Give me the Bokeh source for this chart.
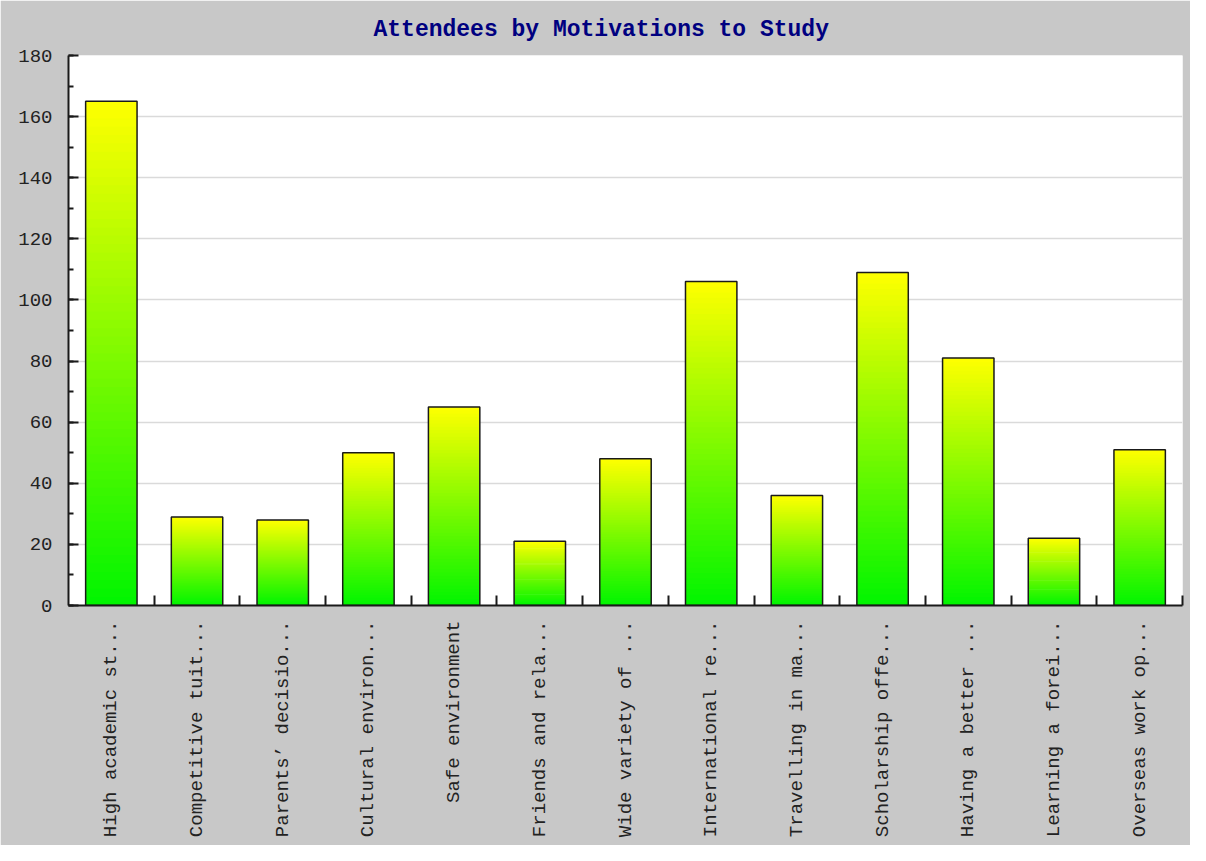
import math
from bokeh.plotting import figure
from bokeh.models import Range1d, FixedTicker, ColumnDataSource
from bokeh.embed import file_html
from bokeh.resources import INLINE

# ---- data ----
categories = [
    "High academic st...",
    "Competitive tuit...",
    "Parents\u2019 decisio...",
    "Cultural environ...",
    "Safe environment",
    "Friends and rela...",
    "Wide variety of ...",
    "International re...",
    "Travelling in ma...",
    "Scholarship offe...",
    "Having a better ...",
    "Learning a forei...",
    "Overseas work op...",
]
attendees = [165, 29, 28, 50, 65, 21, 48, 106, 36, 109, 81, 22, 51]
y_ticks = [0, 20, 40, 60, 80, 100, 120, 140, 160, 180]
title_text = "Attendees by Motivations to Study"

# ---- style ----
BG = "#C8C8C8"
AXIS = "#1a1a1a"
TOP_RGB = (255, 255, 0)
BOT_RGB = (0, 245, 0)
N_SLICES = 60
BAR_PAD = 0.2

n = len(categories)
p = figure(
    width=1190, height=845,
    x_range=Range1d(0, n), y_range=Range1d(0, 180),
    output_backend="svg", toolbar_location=None,
    min_border_left=68, min_border_right=8,
    min_border_top=55, min_border_bottom=240,
    title=title_text,
)
p.background_fill_color = "white"
p.border_fill_color = BG
p.outline_line_color = None

p.title.align = "left"
p.title.offset = 305
p.title.text_font = "Liberation Mono"
p.title.text_font_style = "bold"
p.title.text_font_size = "23px"
p.title.text_color = "#000080"
p.title.standoff = 25

# gradient bars built as stacked, slightly overlapping slices
left, right, bottom, top, colors = [], [], [], [], []
for i, v in enumerate(attendees):
    h = v / N_SLICES
    for k in range(N_SLICES):
        t = (k + 0.5) / N_SLICES
        r = round(BOT_RGB[0] + (TOP_RGB[0] - BOT_RGB[0]) * t)
        g = round(BOT_RGB[1] + (TOP_RGB[1] - BOT_RGB[1]) * t)
        b = round(BOT_RGB[2] + (TOP_RGB[2] - BOT_RGB[2]) * t)
        left.append(i + BAR_PAD)
        right.append(i + 1 - BAR_PAD)
        bottom.append(h * k)
        top.append(v if k == N_SLICES - 1 else h * (k + 1.6))
        colors.append("#%02x%02x%02x" % (r, g, b))

p.quad(left=left, right=right, bottom=bottom, top=top,
       fill_color=colors, line_color=None)

outline = ColumnDataSource(dict(
    left=[i + BAR_PAD for i in range(n)],
    right=[i + 1 - BAR_PAD for i in range(n)],
    top=attendees,
))
p.quad(left="left", right="right", bottom=0, top="top", source=outline,
       fill_alpha=0, line_color=AXIS, line_width=1.5)

# x axis
xa = p.xaxis[0]
xa.ticker = FixedTicker(ticks=[i + 0.5 for i in range(n)],
                        minor_ticks=[i + 1 for i in range(n)])
xa.major_label_overrides = {i + 0.5: c for i, c in enumerate(categories)}
xa.major_label_orientation = math.pi / 2
xa.major_tick_in = 0
xa.major_tick_out = 0
xa.minor_tick_in = 10
xa.minor_tick_out = 0
xa.minor_tick_line_color = AXIS
xa.minor_tick_line_width = 2
xa.axis_line_color = AXIS
xa.axis_line_width = 2
xa.major_label_text_font = "Liberation Mono"
xa.major_label_text_font_size = "19px"
xa.major_label_text_color = "#222222"
xa.major_label_standoff = 15

# y axis
ya = p.yaxis[0]
ya.ticker = FixedTicker(ticks=y_ticks, minor_ticks=list(range(0, 181, 10)))
ya.major_tick_in = 10
ya.major_tick_out = 0
ya.minor_tick_in = 5
ya.minor_tick_out = 0
ya.major_tick_line_color = AXIS
ya.minor_tick_line_color = AXIS
ya.major_tick_line_width = 2
ya.minor_tick_line_width = 2
ya.axis_line_color = AXIS
ya.axis_line_width = 2
ya.major_label_text_font = "Liberation Mono"
ya.major_label_text_font_size = "19px"
ya.major_label_text_color = "#222222"
ya.major_label_standoff = 16

p.xgrid.grid_line_color = None
p.ygrid.ticker = FixedTicker(ticks=y_ticks)
p.ygrid.grid_line_color = "#DADADA"
p.ygrid.grid_line_width = 1.5

open("out.html", "w").write(file_html(p, INLINE))
